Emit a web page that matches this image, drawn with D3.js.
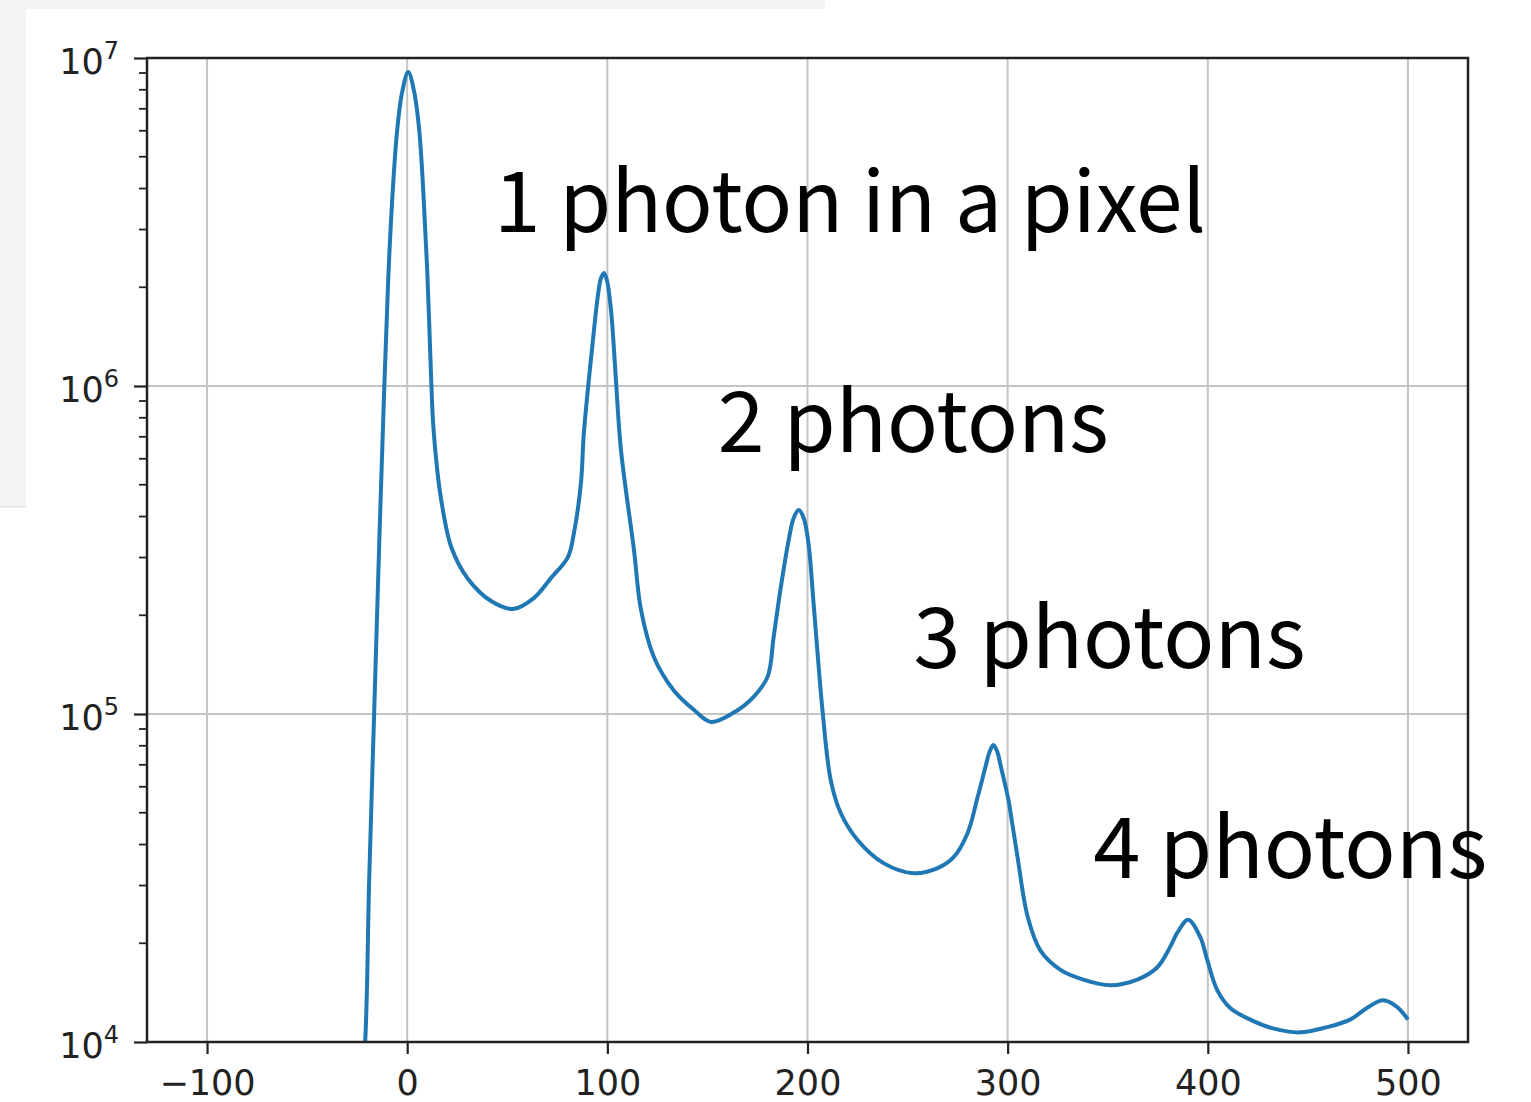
<!DOCTYPE html>
<html>
<head>
<meta charset="utf-8">
<script src="https://cdn.jsdelivr.net/npm/d3@7"></script>
<style>
  html, body { margin: 0; padding: 0; background: #fff; }
  svg { display: block; }
</style>
</head>
<body>
<svg id="chart" width="1531" height="1102"></svg>
<script>
// ---------- data ----------
const signal = [-24, -21, -19, -16.5, -14, -11.5, -9.5, -7.5, -5, -2.5, 0.5, 3.5, 6, 8, 10, 12, 13, 15, 17, 22, 30.4, 41.9, 52.9, 63.4, 71.9, 80.3, 83.3, 86.8, 88.3, 92.8, 95.3, 96.8, 98.3, 99.8, 101.8, 103, 104.3, 106.8, 113.3, 116.8, 123.3, 133.2, 143.2, 151.7, 163.2, 173.2, 180.1, 183.1, 186.6, 190.6, 193.1, 195.6, 198.1, 200.6, 203.1, 207.6, 211.6, 216.6, 225, 238, 253, 265, 273, 280, 285, 288.9, 290.9, 292.9, 294.9, 296.4, 298.4, 300.4, 302.4, 305, 310, 316.4, 326.4, 337.8, 351.3, 364.8, 374.8, 381.2, 384.7, 390.2, 396.2, 399.7, 404.7, 411.2, 421.2, 432.6, 446.1, 459.6, 471.1, 479.5, 487.5, 494.5, 500];
const counts = [6.0e3, 1.0e4, 3.12e4, 1.01e5, 3.27e5, 9.73e5, 2.10e6, 3.69e6, 6.03e6, 7.88e6, 9.06e6, 7.88e6, 6.03e6, 3.97e6, 2.26e6, 1.04e6, 7.61e5, 5.55e5, 4.49e5, 3.23e5, 2.58e5, 2.21e5, 2.09e5, 2.26e5, 2.60e5, 3.01e5, 3.56e5, 5.06e5, 7.24e5, 1.38e6, 1.89e6, 2.13e6, 2.21e6, 2.10e6, 1.71e6, 1.38e6, 1.04e6, 6.38e5, 3.16e5, 2.08e5, 1.49e5, 1.18e5, 1.03e5, 9.46e4, 1.01e5, 1.13e5, 1.30e5, 1.72e5, 2.42e5, 3.39e5, 3.96e5, 4.19e5, 3.96e5, 3.27e5, 2.15e5, 1.01e5, 6.29e4, 4.99e4, 4.13e4, 3.51e4, 3.27e4, 3.39e4, 3.66e4, 4.34e4, 5.58e4, 6.89e4, 7.65e4, 8.04e4, 7.65e4, 7.0e4, 6.21e4, 5.47e4, 4.59e4, 3.64e4, 2.41e4, 1.90e4, 1.66e4, 1.55e4, 1.49e4, 1.55e4, 1.69e4, 1.95e4, 2.15e4, 2.36e4, 2.09e4, 1.78e4, 1.44e4, 1.27e4, 1.17e4, 1.10e4, 1.07e4, 1.11e4, 1.17e4, 1.27e4, 1.34e4, 1.28e4, 1.17e4];

const xTicks = [-100, 0, 100, 200, 300, 400, 500];
const yTicks = [1e4, 1e5, 1e6, 1e7];
const yTickExponents = ["4", "5", "6", "7"];
const annotations = ["1 photon in a pixel", "2 photons", "3 photons", "4 photons"];
const annotationAnchors = [[43.4, 2.95e6], [155.2, 6.3e5], [253, 1.38e5], [342.8, 3.16e4]];

// ---------- layout ----------
const svg = d3.select("#chart");
const L = 147, R = 1468, T = 58, B = 1042;

// screenshot backdrop
svg.append("rect").attr("x", 0).attr("y", 0).attr("width", 825).attr("height", 507).attr("fill", "#f3f3f3");
svg.append("rect").attr("x", 0).attr("y", 506).attr("width", 825).attr("height", 1.5).attr("fill", "#e6e6e6");
svg.append("rect").attr("x", 26).attr("y", 9).attr("width", 1531 - 26).attr("height", 1102 - 9).attr("fill", "#ffffff");

const x = d3.scaleLinear().domain([-130, 530]).range([L, R]);
const y = d3.scaleLog().domain([1e4, 1e7]).range([B, T]);

// grid
const grid = svg.append("g");
grid.selectAll("line.gx").data(xTicks).join("line")
  .attr("x1", d => x(d)).attr("x2", d => x(d)).attr("y1", T).attr("y2", B)
  .attr("stroke", "#c4c4c4").attr("stroke-width", 2);
grid.selectAll("line.gy").data(yTicks).join("line")
  .attr("x1", L).attr("x2", R).attr("y1", d => y(d)).attr("y2", d => y(d))
  .attr("stroke", "#c4c4c4").attr("stroke-width", 2);

// data line
svg.append("defs").append("clipPath").attr("id", "clip")
  .append("rect").attr("x", L).attr("y", T).attr("width", R - L).attr("height", B - T);
const pts = signal.map((s, i) => [s, counts[i]]);
const line = d3.line().x(d => x(d[0])).y(d => y(d[1])).curve(d3.curveCatmullRom.alpha(0.5));
svg.append("path").datum(pts)
  .attr("clip-path", "url(#clip)")
  .attr("d", line)
  .attr("fill", "none").attr("stroke", "#1f77b4").attr("stroke-width", 4)
  .attr("stroke-linejoin", "round");

// axes
const fmtX = d => (d < 0 ? "\u2212" + Math.abs(d) : String(d));
const xAxis = svg.append("g").attr("transform", `translate(0,${B})`)
  .call(d3.axisBottom(x).tickValues(xTicks).tickFormat(fmtX).tickSize(12).tickPadding(20));
xAxis.select(".domain").remove();
xAxis.selectAll(".tick line").attr("stroke", "#222").attr("stroke-width", 2.2);
xAxis.selectAll(".tick text").attr("font-family", "DejaVu Sans").attr("font-size", 35)
  .attr("fill", "#222").attr("dy", null).attr("y", 53);

const yAxis = svg.append("g").attr("transform", `translate(${L},0)`)
  .call(d3.axisLeft(y).tickValues(yTicks).tickFormat("").tickSize(13));
yAxis.select(".domain").remove();
yAxis.selectAll(".tick line").attr("stroke", "#222").attr("stroke-width", 2.2);
yAxis.selectAll(".tick text").remove();

// minor ticks
const minors = [];
for (let e = 4; e < 7; e++) for (let m = 2; m <= 9; m++) minors.push(m * Math.pow(10, e));
svg.append("g").selectAll("line").data(minors).join("line")
  .attr("x1", L - 8).attr("x2", L).attr("y1", d => y(d)).attr("y2", d => y(d))
  .attr("stroke", "#222").attr("stroke-width", 1.8);

// y labels 10^n
const yl = svg.append("g").selectAll("text").data(yTicks).join("text")
  .attr("x", 119).attr("y", d => y(d) + 16)
  .attr("text-anchor", "end")
  .attr("font-family", "DejaVu Sans").attr("font-size", 35).attr("fill", "#222");
yl.append("tspan").text("10");
yl.append("tspan").attr("dy", -15).attr("font-size", 24).text((d, i) => yTickExponents[i]);

// frame
svg.append("rect").attr("x", L).attr("y", T).attr("width", R - L).attr("height", B - T)
  .attr("fill", "none").attr("stroke", "#222").attr("stroke-width", 2.5);

// annotations
const annWidths = [712, 391, 392, 394];
svg.append("g").selectAll("text").data(annotations).join("text")
  .attr("x", (d, i) => x(annotationAnchors[i][0]))
  .attr("y", (d, i) => y(annotationAnchors[i][1]))
  .attr("font-family", "'Noto Sans CJK JP', 'Noto Sans', sans-serif")
  .attr("font-size", 84).attr("fill", "#000")
  .attr("textLength", (d, i) => annWidths[i])
  .attr("lengthAdjust", "spacingAndGlyphs")
  .text(d => d);
</script>
</body>
</html>
